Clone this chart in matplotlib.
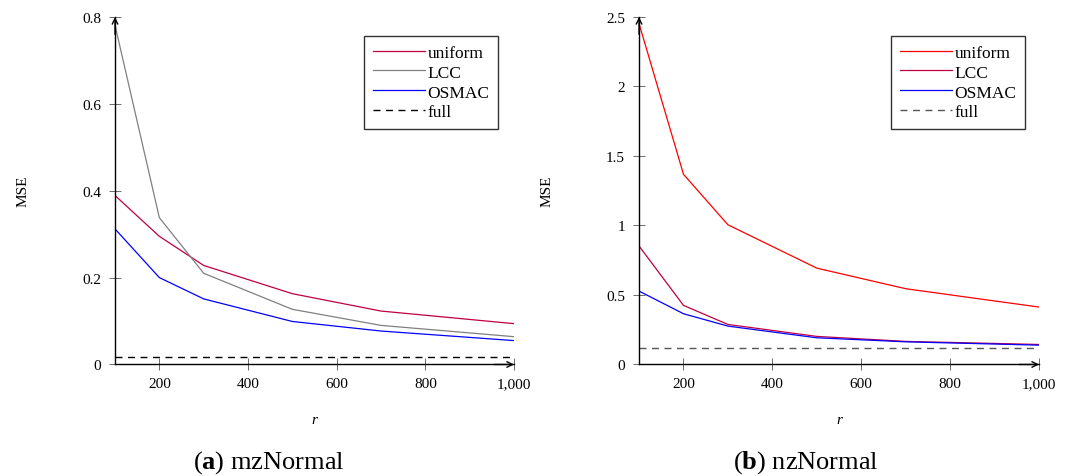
import matplotlib
matplotlib.use("Agg")
import matplotlib.pyplot as plt
from matplotlib.ticker import FixedLocator, FuncFormatter

plt.rcParams['font.family'] = ['Liberation Serif', 'DejaVu Serif']
plt.rcParams['mathtext.fontset'] = 'custom'
plt.rcParams['mathtext.rm'] = 'Liberation Serif'
plt.rcParams['mathtext.bf'] = 'Liberation Serif:bold'

r = [100, 200, 300, 500, 700, 1000]

# (a) mzNormal
mz_uniform = [0.389, 0.295, 0.228, 0.163, 0.123, 0.094]
mz_lcc = [0.781, 0.338, 0.210, 0.127, 0.090, 0.064]
mz_osmac = [0.312, 0.200, 0.151, 0.099, 0.077, 0.055]
mz_full = 0.017

# (b) nzNormal
nz_uniform = [2.452, 1.368, 1.005, 0.693, 0.545, 0.413]
nz_lcc = [0.852, 0.425, 0.288, 0.202, 0.166, 0.144]
nz_osmac = [0.528, 0.365, 0.276, 0.192, 0.163, 0.139]
nz_full = 0.122

x_ticks = [200, 400, 600, 800, 1000]
mz_yticks = [0, 0.2, 0.4, 0.6, 0.8]
nz_yticks = [0, 0.5, 1, 1.5, 2, 2.5]

PURPLE = '#BF0040'

fig = plt.figure(figsize=(10.69, 4.77), dpi=100)
ax1 = fig.add_axes([0.1076, 0.2338, 0.3732, 0.7285])
ax2 = fig.add_axes([0.5978, 0.2338, 0.3742, 0.7285])


def fmt_num(v, pos=None):
    if abs(v - round(v)) < 1e-9:
        return '{:,}'.format(int(round(v)))
    return '{:g}'.format(v)


def style_axes(ax, yticks, ymax):
    ax.set_xlim(100, 1000)
    ax.set_ylim(0, ymax)
    for s in ['top', 'right']:
        ax.spines[s].set_visible(False)
    for s in ['left', 'bottom']:
        ax.spines[s].set_linewidth(1.0)
        ax.spines[s].set_color('black')
    ax.xaxis.set_major_locator(FixedLocator(x_ticks))
    ax.yaxis.set_major_locator(FixedLocator(yticks))
    ax.xaxis.set_major_formatter(FuncFormatter(fmt_num))
    ax.yaxis.set_major_formatter(FuncFormatter(fmt_num))
    ax.tick_params(direction='inout', length=8, width=0.6, color='#555555',
                   labelsize=11, pad=5)
    ax.tick_params(axis='y', pad=6)
    ax.annotate('', xy=(1, 0), xytext=(0.95, 0), xycoords='axes fraction',
                arrowprops=dict(arrowstyle='->', color='black', lw=1.0,
                                shrinkA=0, shrinkB=0), annotation_clip=False)
    ax.annotate('', xy=(0, 1), xytext=(0, 0.95), xycoords='axes fraction',
                arrowprops=dict(arrowstyle='->', color='black', lw=1.0,
                                shrinkA=0, shrinkB=0), annotation_clip=False)
    ax.text(-0.231, 0.5, 'MSE', rotation=90, ha='center', va='center',
            fontsize=11, transform=ax.transAxes)
    ax.text(0.5, -0.157, 'r', style='italic', ha='center', va='center',
            fontsize=11, transform=ax.transAxes)


lw = 0.9
ax1.plot(r, mz_uniform, color=PURPLE, lw=lw, label='uniform')
ax1.plot(r, mz_lcc, color='gray', lw=lw, label='LCC')
ax1.plot(r, mz_osmac, color='blue', lw=lw, label='OSMAC')
ax1.plot([r[0], r[-1]], [mz_full, mz_full], color='black', lw=1.0,
         ls=(0, (5, 4)), label='full')
style_axes(ax1, mz_yticks, 0.8)

ax2.plot(r, nz_uniform, color='red', lw=lw, label='uniform')
ax2.plot(r, nz_lcc, color=PURPLE, lw=lw, label='LCC')
ax2.plot(r, nz_osmac, color='blue', lw=lw, label='OSMAC')
ax2.plot([r[0], r[-1]], [nz_full, nz_full], color='#555555', lw=1.0,
         ls=(0, (5, 4)), label='full')
style_axes(ax2, nz_yticks, 2.5)

for ax, x0 in [(ax1, 0.624), (ax2, 0.63)]:
    leg = ax.legend(loc='upper left', bbox_to_anchor=(x0, 0.946),
                    fontsize=12.5, frameon=True, fancybox=False,
                    handlelength=3.0, handletextpad=0.15, labelspacing=0.22,
                    borderpad=0.5, borderaxespad=0)
    leg.get_frame().set_edgecolor('black')
    leg.get_frame().set_linewidth(1.0)

fig.text(0.2516, 0.0293, r'($\mathbf{a}$) mzNormal', ha='center',
         va='center', fontsize=19)
fig.text(0.754, 0.0293, r'($\mathbf{b}$) nzNormal', ha='center',
         va='center', fontsize=19)

fig.savefig('out.png', dpi=100)
